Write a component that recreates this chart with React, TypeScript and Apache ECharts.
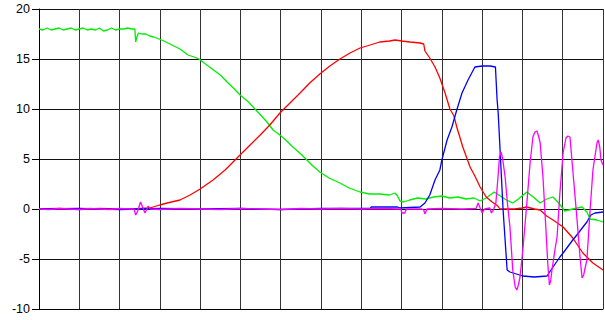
import React, { useEffect, useRef } from "react";
import * as echarts from "echarts";

const yTicks = [-10, -5, 0, 5, 10, 15, 20];

const greenData: number[][] = [
  [0, 18.0], [0.1, 17.9], [0.2, 18.1], [0.3, 17.9], [0.4, 18.0], [0.5, 18.1], [0.6, 17.9], [0.7, 18.0],
  [0.8, 18.1], [0.9, 17.9], [1.0, 18.0], [1.1, 18.1], [1.2, 17.9], [1.3, 18.0], [1.4, 17.9], [1.5, 18.1],
  [1.6, 17.8], [1.7, 17.9], [1.8, 18.1], [1.9, 17.9], [2.0, 18.0], [2.1, 18.0], [2.2, 18.1], [2.3, 18.0],
  [2.38, 18.0], [2.40, 16.7], [2.43, 17.2], [2.47, 17.6], [2.55, 17.5], [2.65, 17.5], [2.75, 17.3],
  [2.85, 17.2], [2.98, 17.0], [3.1, 16.8], [3.25, 16.5], [3.4, 16.2], [3.5, 16.0], [3.6, 15.7], [3.7, 15.4],
  [3.85, 15.2], [3.97, 15.0], [4.1, 14.6], [4.3, 14.0], [4.5, 13.4], [4.67, 12.7], [4.85, 12.0], [4.99, 11.4],
  [5.2, 10.7], [5.36, 10.0], [5.5, 9.4], [5.68, 8.6], [5.81, 7.9], [5.98, 7.4], [6.15, 6.8], [6.3, 6.2],
  [6.5, 5.5], [6.65, 4.9], [6.8, 4.3], [6.97, 3.7], [7.2, 3.1], [7.47, 2.6], [7.7, 2.1], [7.97, 1.7],
  [8.2, 1.5], [8.46, 1.5], [8.7, 1.4], [8.84, 1.6], [8.9, 1.3], [8.96, 0.8], [9.05, 0.7], [9.2, 0.9],
  [9.4, 1.1], [9.6, 1.0], [9.8, 1.2], [10.0, 1.3], [10.2, 1.1], [10.4, 1.2], [10.6, 1.0], [10.8, 1.1],
  [10.95, 0.8], [11.1, 1.1], [11.3, 1.7], [11.45, 1.3], [11.6, 0.9], [11.76, 0.6], [11.9, 1.0], [12.11, 1.7],
  [12.3, 1.1], [12.44, 0.6], [12.6, 1.0], [12.76, 1.2], [12.9, 0.6], [13.05, -0.2], [13.25, 0.0],
  [13.48, 0.2], [13.6, -0.3], [13.68, -1.0], [13.85, -1.1], [14.0, -1.3],
];

const redData: number[][] = [
  [0, 0], [0.5, 0.05], [1.0, -0.05], [1.5, 0.05], [2.0, 0], [2.5, 0.05], [2.75, 0.1], [3.0, 0.4],
  [3.18, 0.6], [3.5, 0.9], [3.75, 1.4], [4.0, 2.0], [4.32, 2.9], [4.62, 3.9], [4.99, 5.4], [5.24, 6.4],
  [5.49, 7.4], [5.73, 8.4], [5.98, 9.6], [6.23, 10.6], [6.48, 11.6], [6.72, 12.6], [6.97, 13.5],
  [7.22, 14.3], [7.47, 15.0], [7.72, 15.6], [7.97, 16.1], [8.22, 16.4], [8.46, 16.7], [8.7, 16.8],
  [8.84, 16.9], [9.0, 16.8], [9.21, 16.7], [9.46, 16.6], [9.55, 16.5], [9.58, 15.8], [9.70, 15.1],
  [9.83, 14.2], [9.95, 13.1], [10.08, 11.6], [10.20, 10.0], [10.3, 9.3], [10.37, 8.2], [10.52, 6.2],
  [10.70, 4.2], [10.82, 3.3], [10.95, 2.2], [11.1, 1.2], [11.25, 0.7], [11.39, 0.3], [11.44, 0.0],
  [11.6, 0.0], [11.8, 0.0], [12.0, 0.1], [12.1, 0.2], [12.3, 0.0], [12.44, -0.1], [12.6, -0.7],
  [12.76, -1.1], [13.01, -1.8], [13.25, -2.9], [13.5, -4.4], [13.75, -5.4], [14.0, -6.1],
];

const blueData: number[][] = [
  [0, 0], [1.0, 0.05], [2.0, -0.05], [3.0, 0.05], [4.0, 0], [5.0, 0.05], [6.0, -0.05], [7.0, 0.05],
  [8.22, 0.05], [8.25, 0.2], [8.9, 0.2], [8.96, 0.1], [9.46, 0.2], [9.58, 0.6], [9.70, 1.4], [9.83, 2.9],
  [9.95, 3.9], [10.0, 4.9], [10.13, 6.9], [10.25, 8.2], [10.37, 9.9], [10.5, 11.6], [10.65, 12.9],
  [10.82, 14.2], [11.0, 14.3], [11.2, 14.3], [11.33, 14.2], [11.37, 11.0], [11.4, 9.5], [11.52, -0.1],
  [11.62, -6.1], [11.69, -6.3], [12.01, -6.7], [12.3, -6.8], [12.61, -6.7], [12.76, -5.8], [12.93, -4.8],
  [13.01, -4.4], [13.25, -3.1], [13.35, -2.6], [13.6, -1.3], [13.7, -0.6], [13.8, -0.4], [14.0, -0.3],
];

const magentaData: number[][] = [
  [0, 0], [0.25, -0.05], [0.5, 0.05], [0.75, 0], [1.0, -0.05], [1.25, 0.05], [1.5, 0], [1.75, -0.05],
  [2.0, 0.05], [2.25, 0], [2.36, 0], [2.40, -0.6], [2.45, -0.2], [2.52, 0.7], [2.58, 0.1], [2.63, -0.4],
  [2.68, 0.0], [2.71, 0.3], [2.76, 0], [3.0, -0.05], [3.5, 0.05], [4, 0], [4.5, -0.05], [5, 0.05],
  [5.5, 0], [6, -0.05], [6.5, 0.05], [7, 0], [7.5, 0.05], [8, 0], [8.5, 0.05], [8.98, 0], [9.01, -0.4],
  [9.08, -0.4], [9.12, 0], [9.5, 0], [9.55, -0.1], [9.58, -0.5], [9.63, 0], [10, 0.05], [10.5, 0],
  [10.85, 0.05], [10.9, 0.6], [10.95, 0.1], [11.0, -0.4], [11.06, 0], [11.19, 0.1], [11.23, -0.4],
  [11.28, -0.1], [11.34, 0.6], [11.39, 3.0], [11.43, 5.2], [11.47, 5.7], [11.51, 5.0], [11.57, 3.2],
  [11.63, 0.5], [11.69, -1.8], [11.76, -6.1], [11.82, -7.8], [11.86, -8.1], [11.9, -7.6], [11.94, -6.8],
  [12.01, -4.1], [12.11, 0.6], [12.19, 4.6], [12.26, 7.2], [12.31, 7.7], [12.36, 7.8], [12.4, 7.3],
  [12.44, 6.6], [12.51, 3.2], [12.58, -1.8], [12.63, -5.5], [12.67, -7.6], [12.7, -7.2], [12.73, -6.2],
  [12.81, -4.0], [12.86, -2.8], [12.93, 1.6], [13.01, 5.6], [13.08, 7.1], [13.13, 7.3], [13.18, 7.2],
  [13.25, 3.9], [13.35, -0.8], [13.43, -4.8], [13.48, -6.9], [13.52, -6.6], [13.55, -6.0], [13.6, -5.1],
  [13.68, -0.1], [13.75, 3.9], [13.85, 6.6], [13.88, 6.9], [13.92, 6.2], [13.95, 4.9], [14.0, 4.4],
];

const seriesDefs = [
  { name: "green", color: "#00ee00", data: greenData },
  { name: "red", color: "#ff0000", data: redData },
  { name: "blue", color: "#0000ff", data: blueData },
  { name: "magenta", color: "#ff00ff", data: magentaData },
];

export default function App() {
  const ref = useRef<HTMLDivElement>(null);
  useEffect(() => {
    if (!ref.current) return;
    const chart = echarts.init(ref.current, null, { renderer: "svg" });
    chart.setOption({
      animation: false,
      backgroundColor: "#ffffff",
      grid: { left: 39, right: 2, top: 9, bottom: 11, containLabel: false },
      xAxis: {
        type: "value",
        min: 0,
        max: 14,
        interval: 1,
        axisLabel: { show: false },
        axisTick: { show: false },
        axisLine: { show: true, onZero: false, lineStyle: { color: "#000", width: 1 } },
        splitLine: { show: true, lineStyle: { color: "#333", width: 1 } },
      },
      yAxis: {
        type: "value",
        min: yTicks[0],
        max: yTicks[yTicks.length - 1],
        interval: 5,
        axisLabel: {
          show: true,
          color: "#000",
          fontFamily: "Liberation Sans, Arial, sans-serif",
          fontSize: 12.5,
          margin: 9,
        },
        axisTick: { show: true, length: 7, lineStyle: { color: "#000" } },
        axisLine: { show: true, lineStyle: { color: "#000", width: 1 } },
        splitLine: { show: true, lineStyle: { color: "#111", width: 1 } },
      },
      series: seriesDefs.map((s) => ({
        name: s.name,
        type: "line",
        data: s.data,
        showSymbol: false,
        symbol: "none",
        lineStyle: { color: s.color, width: 1.3 },
        itemStyle: { color: s.color },
      })),
    });
    return () => chart.dispose();
  }, []);
  return (
    <div
      ref={ref}
      style={{ position: "fixed", left: 0, top: 0, width: 605, height: 320, background: "#fff" }}
    />
  );
}
